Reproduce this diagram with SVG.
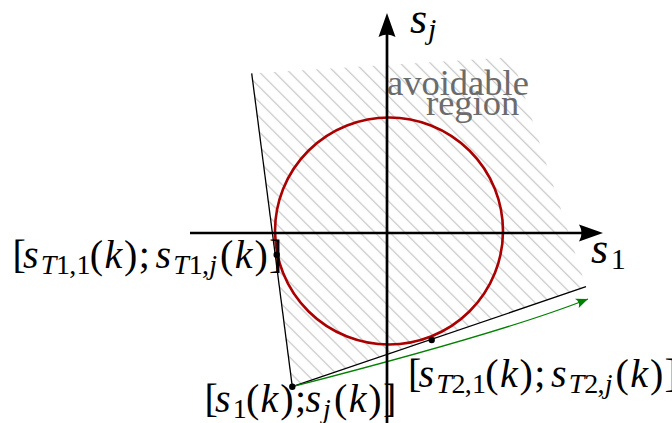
<svg xmlns="http://www.w3.org/2000/svg" width="672" height="423" viewBox="0 0 672 423">
<style>
.m{font-family:"Liberation Serif","Times New Roman",serif;font-size:40px;fill:#000}
.i{font-style:italic}
.sub{font-size:28px}
.ax{font-family:"Liberation Serif","Times New Roman",serif;font-size:44px;fill:#000}
.axs{font-size:30px}
.av{font-family:"Liberation Serif","Times New Roman",serif;font-size:36.5px;fill:#6b6b6b}
.axis{stroke:#000;stroke-width:2.7;fill:none}
.tan{stroke:#000;stroke-width:1.3;fill:none}
.dot{fill:#000}
</style>
<defs>
<pattern id="hatch" patternUnits="userSpaceOnUse" width="10.6" height="10.6" patternTransform="rotate(-45)">
<line x1="5.3" y1="-1" x2="5.3" y2="11.6" stroke="#c6c6c6" stroke-width="1.3"/>
</pattern>
<marker id="axhead" markerUnits="userSpaceOnUse" orient="auto" viewBox="-20 -10 40 20" markerWidth="40" markerHeight="20" refX="0" refY="0">
<path d="M10,0 L-14,-8.5 Q-9,0 -14,8.5 Z" fill="#000"/>
</marker>
<marker id="ghead" markerUnits="userSpaceOnUse" orient="auto" viewBox="-14 -7 16 14" markerWidth="16" markerHeight="14" refX="0" refY="0">
<path d="M0,0 L-12,-5 Q-8,0 -12,5 Z" fill="#008000"/>
</marker>
</defs>

<g id="avoidable-region">
<polygon points="292.3,386.7 251.7,73.3 512,57 586,287" fill="url(#hatch)" stroke="none"/>
<text class="av"><tspan x="387" y="95">avoidable</tspan><tspan x="426" y="115">region</tspan></text>
</g>

<g id="circle">
<ellipse cx="389" cy="231" rx="114" ry="113.5" fill="none" stroke="#aa0000" stroke-width="2.6"/>
</g>

<g id="connectors">
<line class="tan" x1="292.3" y1="386.7" x2="251.7" y2="73.3"/>
<line class="tan" x1="292.3" y1="386.7" x2="586" y2="286.7"/>
<path d="M292.3,386.7 Q505,332 588,299" fill="none" stroke="#008000" stroke-width="1.3" marker-end="url(#ghead)"/>
<line class="axis" x1="190" y1="233" x2="593" y2="233" marker-end="url(#axhead)"/>
<line class="axis" x1="387" y1="423" x2="387" y2="23" marker-end="url(#axhead)"/>
</g>

<g id="axis-labels">
<text class="ax"><tspan class="i" x="410" y="33">s</tspan><tspan class="i axs" x="428" y="39">j</tspan></text>
<text class="ax"><tspan class="i" x="591" y="263">s</tspan><tspan class="axs" x="610.7" y="269">1</tspan></text>
</g>

<g id="point-T1">
<circle class="dot" cx="276.7" cy="254.7" r="3.2"/>
<text class="m"><tspan x="12.5" y="268">[</tspan><tspan class="i" x="23">s</tspan><tspan class="sub i" x="40.7" y="274">T</tspan><tspan class="sub" x="56.1 69.3 76.6">1,1</tspan><tspan x="89.8" y="268">(</tspan><tspan class="i" x="104.5">k</tspan><tspan x="124.1">)</tspan><tspan x="138.8">; </tspan><tspan class="i" x="155.6">s</tspan><tspan class="sub i" x="173.3" y="274">T</tspan><tspan class="sub" x="188.7 201.9">1,</tspan><tspan class="sub i" x="209.2">j</tspan><tspan x="220.1" y="268">(</tspan><tspan class="i" x="234.8">k</tspan><tspan x="254.4">)</tspan><tspan x="269.1">]</tspan></text>
</g>

<g id="point-T2">
<circle class="dot" cx="431.7" cy="340" r="3.2"/>
<text class="m"><tspan x="408" y="387">[</tspan><tspan class="i" x="418.5">s</tspan><tspan class="sub i" x="436.2" y="393">T</tspan><tspan class="sub" x="451.6 464.8 472.1">2,1</tspan><tspan x="485.3" y="387">(</tspan><tspan class="i" x="500">k</tspan><tspan x="519.6">)</tspan><tspan x="534.3">; </tspan><tspan class="i" x="551.1">s</tspan><tspan class="sub i" x="568.8" y="393">T</tspan><tspan class="sub" x="584.2 597.4">2,</tspan><tspan class="sub i" x="604.7">j</tspan><tspan x="615.6" y="387">(</tspan><tspan class="i" x="630.3">k</tspan><tspan x="649.9">)</tspan><tspan x="664.6">]</tspan></text>
</g>

<g id="point-s">
<circle class="dot" cx="292.3" cy="386.7" r="3.2"/>
<text class="m"><tspan x="204.5" y="412">[</tspan><tspan class="i" x="215">s</tspan><tspan class="sub" x="232.7" y="418">1</tspan><tspan x="245.9" y="412">(</tspan><tspan class="i" x="260.6">k</tspan><tspan x="280.2">)</tspan><tspan x="294.9">; </tspan><tspan class="i" x="305.4">s</tspan><tspan class="sub i" x="323.1" y="418">j</tspan><tspan x="334" y="412">(</tspan><tspan class="i" x="348.7">k</tspan><tspan x="368.3">)</tspan><tspan x="383">]</tspan></text>
</g>
</svg>
